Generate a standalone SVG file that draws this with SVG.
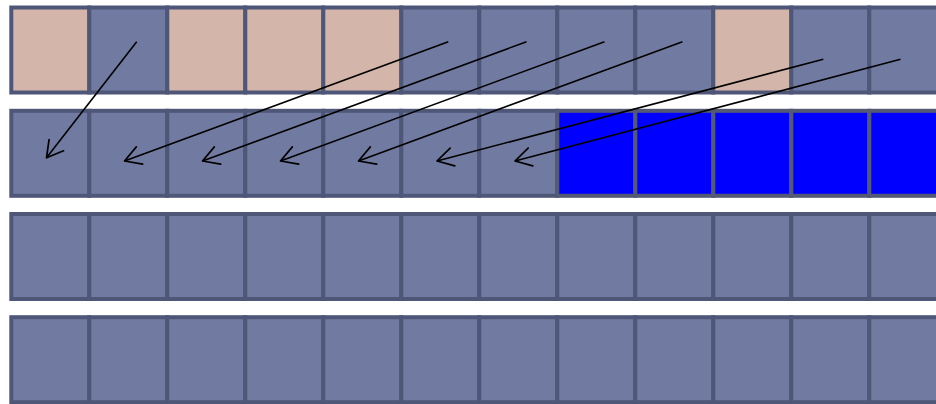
<svg xmlns="http://www.w3.org/2000/svg" width="936" height="404" viewBox="0 0 936 404">
<style>
.c{fill:#717ba1;stroke:#4f5778;stroke-width:4}
.t{fill:#d4b5aa;stroke:#4f5778;stroke-width:4}
.b{fill:#0000ff;stroke:#545974;stroke-width:4}
.a{fill:none;stroke:#000;stroke-width:1.6;marker-end:url(#ah)}
</style>
<defs>
<marker id="ah" markerUnits="userSpaceOnUse" orient="auto" overflow="visible" refX="0" refY="0" markerWidth="1" markerHeight="1">
<path d="M-16,-9.2 L0,0 L-16,9.2" fill="none" stroke="#000" stroke-width="1.7" stroke-linecap="round" stroke-linejoin="round"/>
</marker>
</defs>
<rect width="936" height="404" fill="#fff"/>
<g id="row1">
<g id="r1c0"><rect class="t" x="11.3" y="7.5" width="78" height="85"/></g>
<g id="r1c1"><rect class="c" x="89.3" y="7.5" width="78" height="85"/></g>
<g id="r1c2"><rect class="t" x="167.3" y="7.5" width="78" height="85"/></g>
<g id="r1c3"><rect class="t" x="245.3" y="7.5" width="78" height="85"/></g>
<g id="r1c4"><rect class="t" x="323.3" y="7.5" width="78" height="85"/></g>
<g id="r1c5"><rect class="c" x="401.3" y="7.5" width="78" height="85"/></g>
<g id="r1c6"><rect class="c" x="479.3" y="7.5" width="78" height="85"/></g>
<g id="r1c7"><rect class="c" x="557.3" y="7.5" width="78" height="85"/></g>
<g id="r1c8"><rect class="c" x="635.3" y="7.5" width="78" height="85"/></g>
<g id="r1c9"><rect class="t" x="713.3" y="7.5" width="78" height="85"/></g>
<g id="r1c10"><rect class="c" x="791.3" y="7.5" width="78" height="85"/></g>
<g id="r1c11"><rect class="c" x="869.3" y="7.5" width="78" height="85"/></g>
</g>
<g id="row2">
<g id="r2c0"><rect class="c" x="11.3" y="110.8" width="78" height="85"/></g>
<g id="r2c1"><rect class="c" x="89.3" y="110.8" width="78" height="85"/></g>
<g id="r2c2"><rect class="c" x="167.3" y="110.8" width="78" height="85"/></g>
<g id="r2c3"><rect class="c" x="245.3" y="110.8" width="78" height="85"/></g>
<g id="r2c4"><rect class="c" x="323.3" y="110.8" width="78" height="85"/></g>
<g id="r2c5"><rect class="c" x="401.3" y="110.8" width="78" height="85"/></g>
<g id="r2c6"><rect class="c" x="479.3" y="110.8" width="78" height="85"/></g>
<g id="r2c7"><rect class="b" x="557.3" y="110.8" width="78" height="85"/></g>
<g id="r2c8"><rect class="b" x="635.3" y="110.8" width="78" height="85"/></g>
<g id="r2c9"><rect class="b" x="713.3" y="110.8" width="78" height="85"/></g>
<g id="r2c10"><rect class="b" x="791.3" y="110.8" width="78" height="85"/></g>
<g id="r2c11"><rect class="b" x="869.3" y="110.8" width="78" height="85"/></g>
</g>
<g id="row3">
<g id="r3c0"><rect class="c" x="11.3" y="214" width="78" height="85"/></g>
<g id="r3c1"><rect class="c" x="89.3" y="214" width="78" height="85"/></g>
<g id="r3c2"><rect class="c" x="167.3" y="214" width="78" height="85"/></g>
<g id="r3c3"><rect class="c" x="245.3" y="214" width="78" height="85"/></g>
<g id="r3c4"><rect class="c" x="323.3" y="214" width="78" height="85"/></g>
<g id="r3c5"><rect class="c" x="401.3" y="214" width="78" height="85"/></g>
<g id="r3c6"><rect class="c" x="479.3" y="214" width="78" height="85"/></g>
<g id="r3c7"><rect class="c" x="557.3" y="214" width="78" height="85"/></g>
<g id="r3c8"><rect class="c" x="635.3" y="214" width="78" height="85"/></g>
<g id="r3c9"><rect class="c" x="713.3" y="214" width="78" height="85"/></g>
<g id="r3c10"><rect class="c" x="791.3" y="214" width="78" height="85"/></g>
<g id="r3c11"><rect class="c" x="869.3" y="214" width="78" height="85"/></g>
</g>
<g id="row4">
<g id="r4c0"><rect class="c" x="11.3" y="317.2" width="78" height="85"/></g>
<g id="r4c1"><rect class="c" x="89.3" y="317.2" width="78" height="85"/></g>
<g id="r4c2"><rect class="c" x="167.3" y="317.2" width="78" height="85"/></g>
<g id="r4c3"><rect class="c" x="245.3" y="317.2" width="78" height="85"/></g>
<g id="r4c4"><rect class="c" x="323.3" y="317.2" width="78" height="85"/></g>
<g id="r4c5"><rect class="c" x="401.3" y="317.2" width="78" height="85"/></g>
<g id="r4c6"><rect class="c" x="479.3" y="317.2" width="78" height="85"/></g>
<g id="r4c7"><rect class="c" x="557.3" y="317.2" width="78" height="85"/></g>
<g id="r4c8"><rect class="c" x="635.3" y="317.2" width="78" height="85"/></g>
<g id="r4c9"><rect class="c" x="713.3" y="317.2" width="78" height="85"/></g>
<g id="r4c10"><rect class="c" x="791.3" y="317.2" width="78" height="85"/></g>
<g id="r4c11"><rect class="c" x="869.3" y="317.2" width="78" height="85"/></g>
</g>
<g id="connectors">
<line class="a" x1="136.7" y1="41.7" x2="46.5" y2="157.8"/>
<line class="a" x1="448.3" y1="41.7" x2="124.5" y2="161"/>
<line class="a" x1="526.5" y1="41.7" x2="202.5" y2="161"/>
<line class="a" x1="604.5" y1="41.7" x2="280.5" y2="161"/>
<line class="a" x1="682.5" y1="41.7" x2="358.5" y2="161"/>
<line class="a" x1="823.3" y1="59.3" x2="437" y2="161"/>
<line class="a" x1="900.5" y1="59.3" x2="515" y2="161"/>
</g>
</svg>
